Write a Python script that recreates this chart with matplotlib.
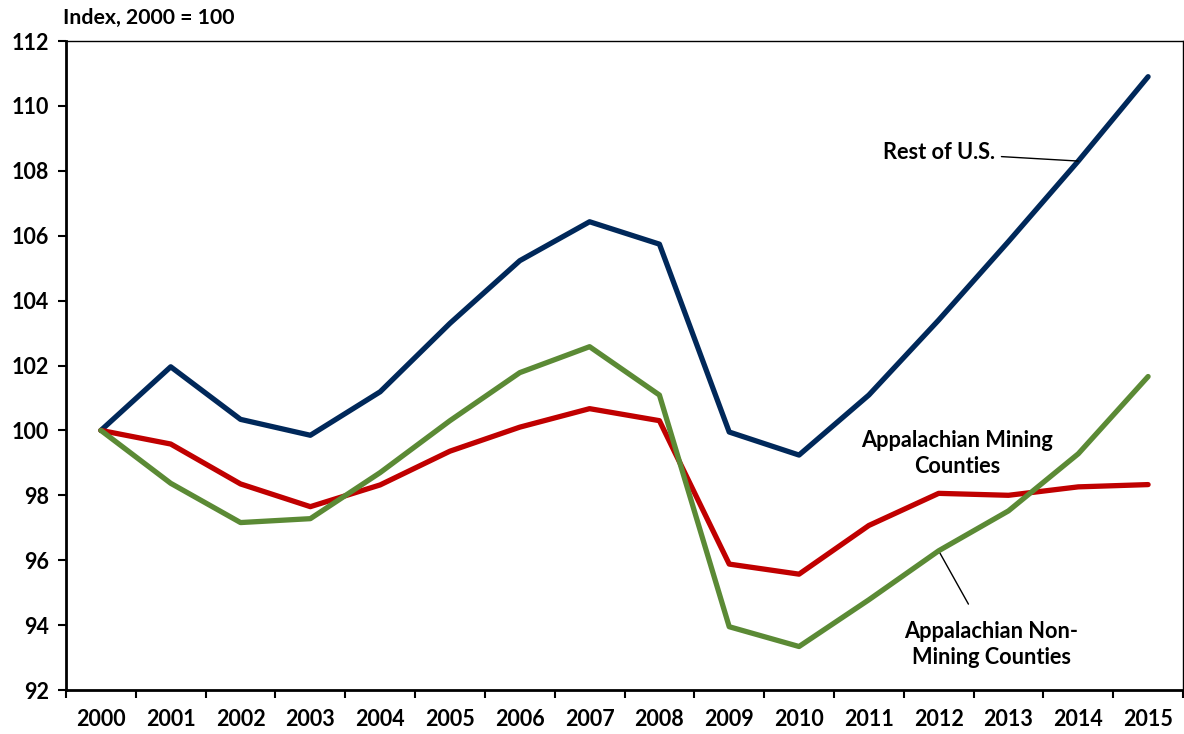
import matplotlib
matplotlib.use('Agg')
import matplotlib.pyplot as plt

# data
years = [str(y) for y in range(2000, 2016)]
rest_us = [100.0, 101.96, 100.34, 99.85, 101.19, 103.3, 105.23, 106.43,
           105.74, 99.95, 99.24, 101.09, 103.4, 105.82, 108.3, 110.9]
mining = [100.0, 99.58, 98.35, 97.65, 98.32, 99.36, 100.1, 100.67,
          100.3, 95.88, 95.57, 97.07, 98.06, 98.0, 98.26, 98.33]
non_mining = [100.0, 98.37, 97.16, 97.28, 98.7, 100.3, 101.78, 102.58,
              101.09, 93.95, 93.34, 94.78, 96.29, 97.52, 99.28, 101.66]
y_ticks = list(range(92, 113, 2))

plt.rcParams['font.family'] = ['Lato', 'DejaVu Sans']
plt.rcParams['font.weight'] = 'bold'

fig = plt.figure(figsize=(11.84, 7.34), dpi=100)
ax = fig.add_axes([66 / 1184, 44 / 734, 1117 / 1184, 649 / 734])

x = list(range(len(years)))
ax.plot(x, rest_us, color='#00285A', lw=3.8, solid_capstyle='round', zorder=3)
ax.plot(x, mining, color='#C00000', lw=3.8, solid_capstyle='round', zorder=3)
ax.plot(x, non_mining, color='#5B8A35', lw=3.8, solid_capstyle='round', zorder=4)

ax.set_xlim(-0.5, len(years) - 0.5)
ax.set_ylim(92, 112)
ax.set_yticks(y_ticks)
ax.set_yticklabels([str(t) for t in y_ticks], fontsize=15.5, fontweight='bold')

# tick marks between categories, labels at category centres
ax.set_xticks([i - 0.5 for i in range(len(years) + 1)])
ax.set_xticklabels([])
ax.set_xticks(x, minor=True)
ax.set_xticklabels(years, minor=True, fontsize=15.5, fontweight='bold')
ax.tick_params(axis='x', which='major', direction='out', length=6, width=1.5)
ax.tick_params(axis='x', which='minor', length=0, pad=14)
ax.tick_params(axis='y', direction='out', length=6, width=1.5, pad=6)

for side in ['left', 'bottom']:
    ax.spines[side].set_linewidth(2)
for side in ['top', 'right']:
    ax.spines[side].set_linewidth(1)

fig.text(63 / 1184, 1 - 18 / 734, 'Index, 2000 = 100', fontsize=15.3,
         fontweight='bold', va='center', ha='left')

# series labels
ax.annotate('Rest of U.S.', xy=(14.0, 108.3), xytext=(12.8, 108.55),
            fontsize=15.7, fontweight='bold', ha='right', va='center',
            arrowprops=dict(arrowstyle='-', color='black', lw=1,
                            shrinkA=3, shrinkB=0))
ax.text(12.26, 99.3, 'Appalachian Mining\nCounties', fontsize=15.7,
        fontweight='bold', ha='center', va='center', linespacing=1.3)
ax.annotate('Appalachian Non-\nMining Counties', xy=(12.0, 96.29), xytext=(12.75, 93.4),
            fontsize=15.7, fontweight='bold', ha='center', va='center',
            linespacing=1.25,
            arrowprops=dict(arrowstyle='-', color='black', lw=1,
                            shrinkA=12, shrinkB=0))

fig.savefig('out.png', dpi=100)
